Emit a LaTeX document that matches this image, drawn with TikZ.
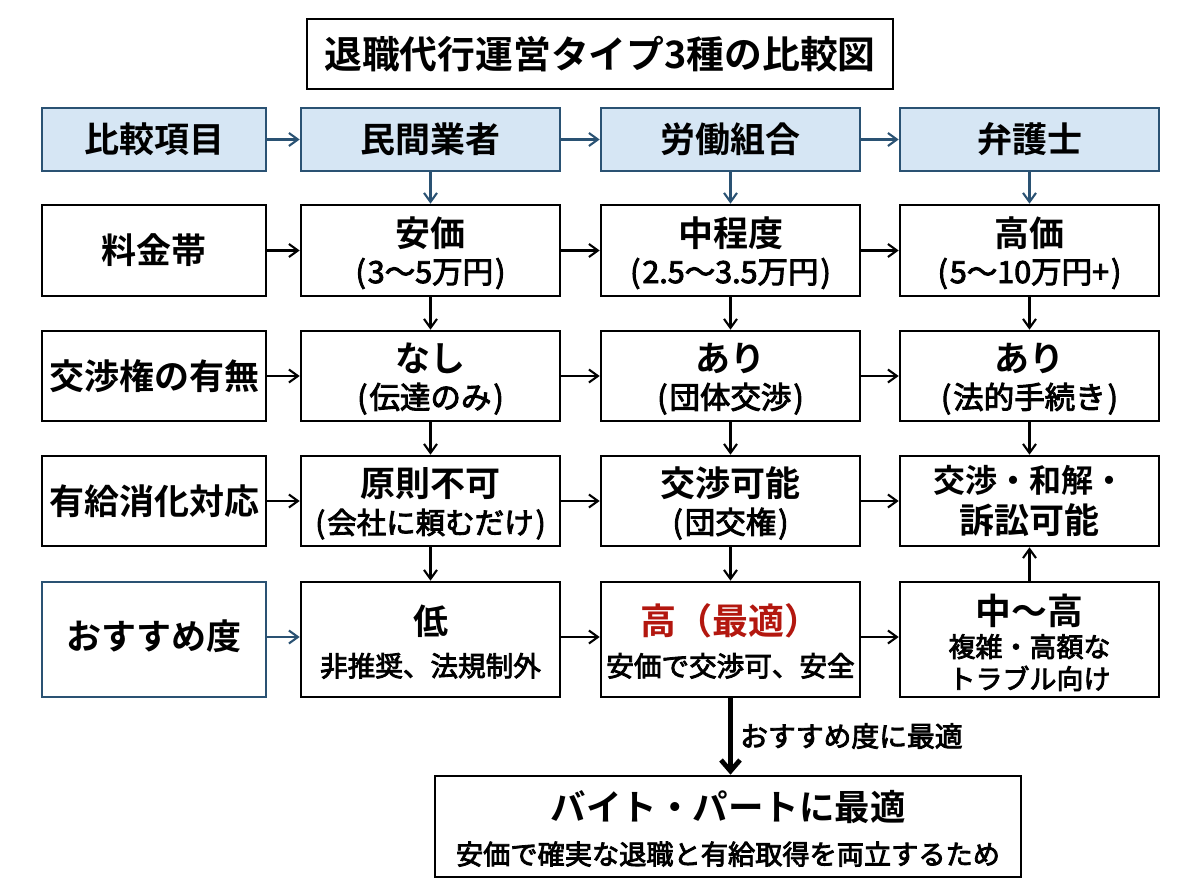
\documentclass[tikz,border=0pt]{standalone}
\usepackage{fontspec}
\setmainfont{Noto Sans CJK JP}[BoldFont={Noto Sans CJK JP Bold}]
\newfontfamily\medfont{Noto Sans CJK JP}[FakeBold=3]
\usetikzlibrary{arrows.meta}
\definecolor{hdrline}{HTML}{2A5273}
\definecolor{hdrfill}{HTML}{D6E6F4}
\definecolor{redtxt}{HTML}{B3170F}
\newcommand{\fs}[2][42]{\fontsize{#2}{#1}\selectfont}
\newcommand{\subf}{\medfont\mdseries}
\newcommand{\pL}{(\hspace{2pt}}
\newcommand{\pR}{\hspace{2pt})}
\newcommand{\twol}[3][30.5]{{\rule{0pt}{34pt}\fs[39]{35}\bfseries #2}\\[-5pt]{\fs[39]{#1}\subf #3}}
\newcommand{\twom}[2]{{\rule{0pt}{34pt}\fs[45]{35}\bfseries #1}\\[0pt]{\fs[45]{27.6}\subf #2}}
\tikzset{
 box/.style={draw=black,line width=2.6pt,inner sep=0pt,align=center,fill=white,font=\fs{35}\bfseries,text=black},
 hdr/.style={box,draw=hdrline,fill=hdrfill},
 cA/.style={minimum width=224pt},
 cB/.style={minimum width=259pt},
 hA/.style={minimum height=63pt},
 hB/.style={minimum height=91pt},
 hC/.style={minimum height=90pt},
 hD/.style={minimum height=115pt},
 conn/.style={draw=black,line width=2.1pt,-{Straight Barb[length=9pt,width=13pt,line width=2.1pt]}},
 hconn/.style={conn,draw=hdrline},
 big/.style={draw=black,line width=4.8pt,-{Straight Barb[length=11pt,width=19pt,line width=4.8pt]}}
}
\begin{document}
\begin{tikzpicture}[x=1pt,y=-1pt]
\useasboundingbox (0,0) rectangle (1200,896);
\node[box,minimum width=586pt,minimum height=70pt,font=\fs{37.8}\bfseries] (title) at (600,54) {退職代行運営タイプ3種の比較図};
% header
\node[hdr,cA,hA] (h0) at (154,139.5) {比較項目};
\node[hdr,cB,hA] (h1) at (430.5,139.5) {民間業者};
\node[hdr,cB,hA] (h2) at (730.5,139.5) {労働組合};
\node[hdr,cB,hA] (h3) at (1029.5,139.5) {弁護士};
% row 1
\node[box,cA,hB] (a0) at (154,250.5) {料金帯};
\node[box,cB,hB] (a1) at (430.5,250.5) {\twol{安価}{\pL 3〜5万円\pR}};
\node[box,cB,hB] (a2) at (730.5,250.5) {\twol{中程度}{\pL 2.5〜3.5万円\pR}};
\node[box,cB,hB] (a3) at (1029.5,250.5) {\twol{高価}{\pL 5〜10万円+\pR}};
% row 2
\node[box,cA,hC] (b0) at (154,376) {交渉権の有無};
\node[box,cB,hC] (b1) at (430.5,376) {\twol{なし}{\pL 伝達のみ\pR}};
\node[box,cB,hC] (b2) at (730.5,376) {\twol{あり}{\pL 団体交渉\pR}};
\node[box,cB,hC] (b3) at (1029.5,376) {\twol{あり}{\pL 法的手続き\pR}};
% row 3
\node[box,cA,hC] (c0) at (154,501) {有給消化対応};
\node[box,cB,hC] (c1) at (430.5,501) {\twol[29.5]{原則不可}{\pL 会社に頼むだけ\pR}};
\node[box,cB,hC] (c2) at (730.5,501) {\twol{交渉可能}{\pL 団交権\pR}};
\node[box,cB,hC] (c3) at (1029.5,501) {\fs[39]{32}\bfseries 交渉・和解・\\[-1pt] 訴訟可能};
% row 4
\node[box,draw=hdrline,cA,hD] (d0) at (154,639.5) {\raisebox{10pt}{おすすめ度}};
\node[box,cB,hD] (d1) at (430.5,639.5) {\twom{低}{非推奨、法規制外}};
\node[box,cB,hD] (d2) at (730.5,639.5) {{\rule{0pt}{34pt}\fs[45]{36}\bfseries\color{redtxt}高（最適）}\\[0pt]{\fs[45]{27.6}\subf 安価で交渉可、安全}};
\node[box,cB,hD] (d3) at (1029.5,639.5) {{\rule{0pt}{37pt}\fs{35.8}\bfseries 中〜高}\\[-10pt]{\fontsize{27}{32}\selectfont\subf 複雑・高額な}\\[-10pt]{\fontsize{27}{32}\selectfont\subf トラブル向け}};
% final
\node[box,minimum width=586pt,minimum height=101pt] (fin) at (728,826.5) {{\rule{0pt}{34pt}\fs{35.5}\bfseries バイト・パートに最適}\\[2pt]{\fs{27.2}\subf 安価で確実な退職と有給取得を両立するため}};
\node[inner sep=0pt,anchor=west,font=\fontsize{27.8}{32}\selectfont\medfont\mdseries] (lab) at (740,736) {おすすめ度に最適};
% connectors
\coordinate (dy) at (0,637);
\foreach \p/\q in {h0/h1,h1/h2,h2/h3,h1/a1,h2/a2,h3/a3} \draw[hconn] (\p) -- (\q);
\foreach \p/\q in {a0/a1,a1/a2,a2/a3,b0/b1,b1/b2,b2/b3,c0/c1,c1/c2,c2/c3,
  a1/b1,a2/b2,a3/b3,b1/c1,b2/c2,b3/c3,c1/d1,c2/d2,d3/c3} \draw[conn] (\p) -- (\q);
\draw[hconn] (d0.east |- dy) -- (d1.west |- dy);
\draw[conn] (d1.east |- dy) -- (d2.west |- dy);
\draw[conn] (d2.east |- dy) -- (d3.west |- dy);
\draw[big] (d2.south) -- (d2.south |- fin.north);
\end{tikzpicture}
\end{document}
